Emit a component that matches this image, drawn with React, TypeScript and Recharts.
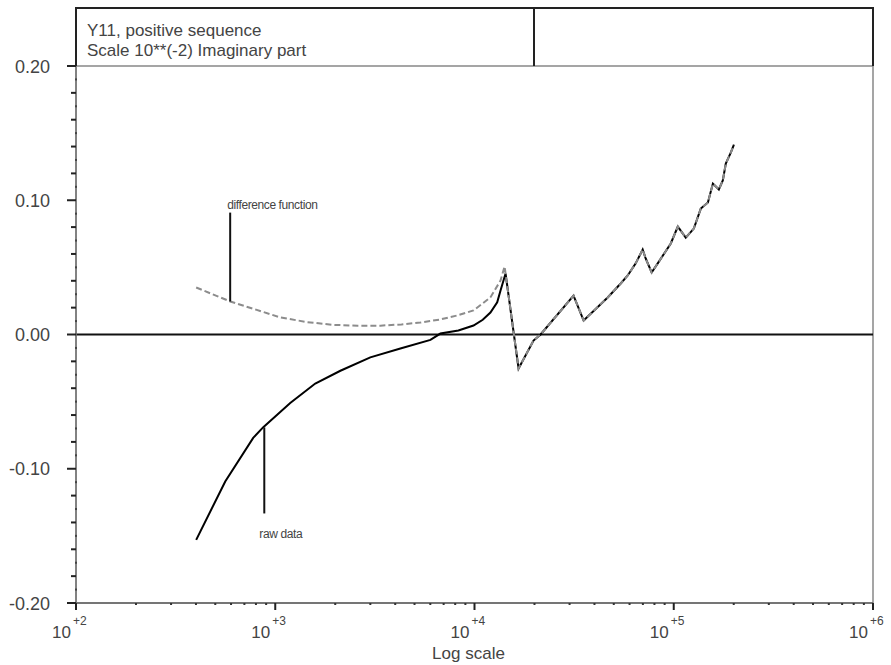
import { LineChart, Line, XAxis, YAxis, ReferenceLine, ReferenceArea, ReferenceDot } from 'recharts'

// frequencies (Hz) and imaginary part of Y11
const rawFreq = [
  401, 561, 775, 871, 1189, 1588, 2123, 3000, 4246, 6010, 6743, 8300, 9885, 11000, 12020, 13000,
  13510, 14320, 16640, 19780, 21460, 31410, 35300, 46600, 54170, 58750, 64430, 69840, 72300,
  77460, 83100, 96630, 104800, 114900, 126100, 136700, 148400, 157200, 168400, 176300, 182500,
  193300, 200500,
]
const rawVal = [
  -0.153, -0.1095, -0.077, -0.069, -0.051, -0.0365, -0.027, -0.017, -0.0104, -0.004, 0.0007,
  0.003, 0.0067, 0.011, 0.0164, 0.024, 0.0328, 0.0454, -0.0253, -0.0045, 0, 0.029, 0.0104,
  0.0276, 0.038, 0.044, 0.053, 0.0633, 0.0566, 0.0462, 0.053, 0.0678, 0.0804, 0.0722, 0.0789,
  0.0938, 0.0983, 0.1124, 0.108, 0.1147, 0.1273, 0.1355, 0.1415,
]
// difference function: its own curve below ~14 kHz, then it sits on the raw data
const diffFreqHead = [401, 594, 800, 1059, 1450, 1955, 2600, 3374, 4300, 5355, 6743, 8200, 9885, 12020, 13510, 14160]
const diffValHead = [0.035, 0.0246, 0.0185, 0.0127, 0.0092, 0.0072, 0.0065, 0.0066, 0.0075, 0.0089, 0.0112, 0.0142, 0.0179, 0.0276, 0.0402, 0.0506]
const JOIN = 18

const xMajor = [100, 1000, 10000, 100000, 1000000]
const xExp = ['+2', '+3', '+4', '+5', '+6']
const xMinor = [
  200, 300, 400, 500, 600, 700, 800, 900,
  2000, 3000, 4000, 5000, 6000, 7000, 8000, 9000,
  20000, 30000, 40000, 50000, 60000, 70000, 80000, 90000,
  200000, 300000, 400000, 500000, 600000, 700000, 800000, 900000,
]
const yTicks = [
  -0.2, -0.19, -0.18, -0.17, -0.16, -0.15, -0.14, -0.13, -0.12, -0.11,
  -0.1, -0.09, -0.08, -0.07, -0.06, -0.05, -0.04, -0.03, -0.02, -0.01,
  0, 0.01, 0.02, 0.03, 0.04, 0.05, 0.06, 0.07, 0.08, 0.09,
  0.1, 0.11, 0.12, 0.13, 0.14, 0.15, 0.16, 0.17, 0.18, 0.19, 0.2,
]

const rawData = rawFreq.map((f, i) => ({ f, v: rawVal[i] }))
const diffData = [
  ...diffFreqHead.map((f, i) => ({ f, v: diffValHead[i] })),
  ...rawData.slice(JOIN),
]

const TEXT = '#444'

function XTick(props: any) {
  const { x, y, payload } = props
  const i = xMajor.indexOf(payload.value)
  if (i < 0) return <rect x={x - 1} y={y} width={2} height={2} fill="#333" />
  return (
    <g>
      <line x1={x} x2={x} y1={y} y2={y + 7} stroke="#222" strokeWidth={2} />
      <text x={x - 5} y={y + 35} textAnchor="end" fontSize={17} fill={TEXT}>10</text>
      <text x={x - 3} y={y + 22} fontSize={12} fill={TEXT}>{xExp[i]}</text>
    </g>
  )
}

function YTick(props: any) {
  const { x, y, payload } = props
  const v: number = payload.value
  const h = Math.round(v * 100)
  if (h % 10 === 0) {
    return (
      <g>
        <line x1={x - 9} x2={x} y1={y} y2={y} stroke="#222" strokeWidth={2} />
        <text x={x - 26} y={y + 6.5} textAnchor="end" fontSize={18} fill={TEXT}>
          {v.toFixed(2)}
        </text>
      </g>
    )
  }
  if (h % 2 === 0) return <line x1={x - 5} x2={x} y1={y} y2={y} stroke="#222" strokeWidth={2} />
  return <rect x={x - 1} y={y - 1} width={2} height={2} fill="#444" />
}

const note = (label: string) => (p: any) => (
  <text x={p.cx} y={p.cy} fontSize={12} letterSpacing={-0.4} fill={TEXT}>{label}</text>
)

export default function App() {
  return (
    <div
      style={{
        position: 'absolute',
        left: 0,
        top: 0,
        width: 891,
        height: 665,
        background: '#fff',
        fontFamily: "'Liberation Sans', Arial, sans-serif",
      }}
    >
      <LineChart width={891} height={665} margin={{ top: 66, right: 18, bottom: 0, left: 0 }}>
        <XAxis
          dataKey="f"
          type="number"
          scale="log"
          domain={[100, 1000000]}
          allowDataOverflow
          ticks={[...xMajor, ...xMinor]}
          interval={0}
          tick={<XTick />}
          tickLine={false}
          tickSize={0}
          tickMargin={0}
          height={62}
          axisLine={{ stroke: '#666', strokeWidth: 1.5 }}
          label={{ value: 'Log scale', position: 'insideBottom', offset: 6, dx: -6, fill: TEXT, fontSize: 17 }}
        />
        <YAxis
          type="number"
          domain={[-0.2, 0.2]}
          allowDataOverflow
          ticks={yTicks}
          interval={0}
          tick={<YTick />}
          tickLine={false}
          tickSize={0}
          tickMargin={0}
          width={76}
          axisLine={{ stroke: '#777', strokeWidth: 1.5 }}
        />
        <ReferenceArea x1={100} x2={1000000} y1={-0.2} y2={0.2} fill="none" stroke="#888" strokeWidth={1.5} />
        <ReferenceLine y={0} stroke="#111" strokeWidth={2} />
        <Line
          data={rawData}
          dataKey="v"
          type="linear"
          stroke="#000"
          strokeWidth={2}
          dot={false}
          isAnimationActive={false}
        />
        <Line
          data={diffData}
          dataKey="v"
          type="linear"
          stroke="#8c8c8c"
          strokeWidth={2}
          strokeDasharray="6 3"
          dot={false}
          isAnimationActive={false}
        />
        <ReferenceLine segment={[{ x: 594, y: 0.0246 }, { x: 594, y: 0.0908 }]} stroke="#111" strokeWidth={2} />
        <ReferenceLine segment={[{ x: 881, y: -0.0692 }, { x: 881, y: -0.1333 }]} stroke="#111" strokeWidth={2} />
        <ReferenceDot x={574} y={0.0938} r={0} shape={note('difference function')} />
        <ReferenceDot x={832} y={-0.1519} r={0} shape={note('raw data')} />
      </LineChart>
      <svg width={891} height={70} style={{ position: 'absolute', left: 0, top: 0 }}>
        <path d="M76 66 V8 H873 V66" fill="none" stroke="#222" strokeWidth={2} />
        <line x1={534} x2={534} y1={8} y2={66} stroke="#222" strokeWidth={2} />
        <text x={87} y={36} fontSize={17} fill={TEXT}>Y11, positive sequence</text>
        <text x={87} y={56} fontSize={17} fill={TEXT}>Scale 10**(-2) Imaginary part</text>
      </svg>
    </div>
  )
}
